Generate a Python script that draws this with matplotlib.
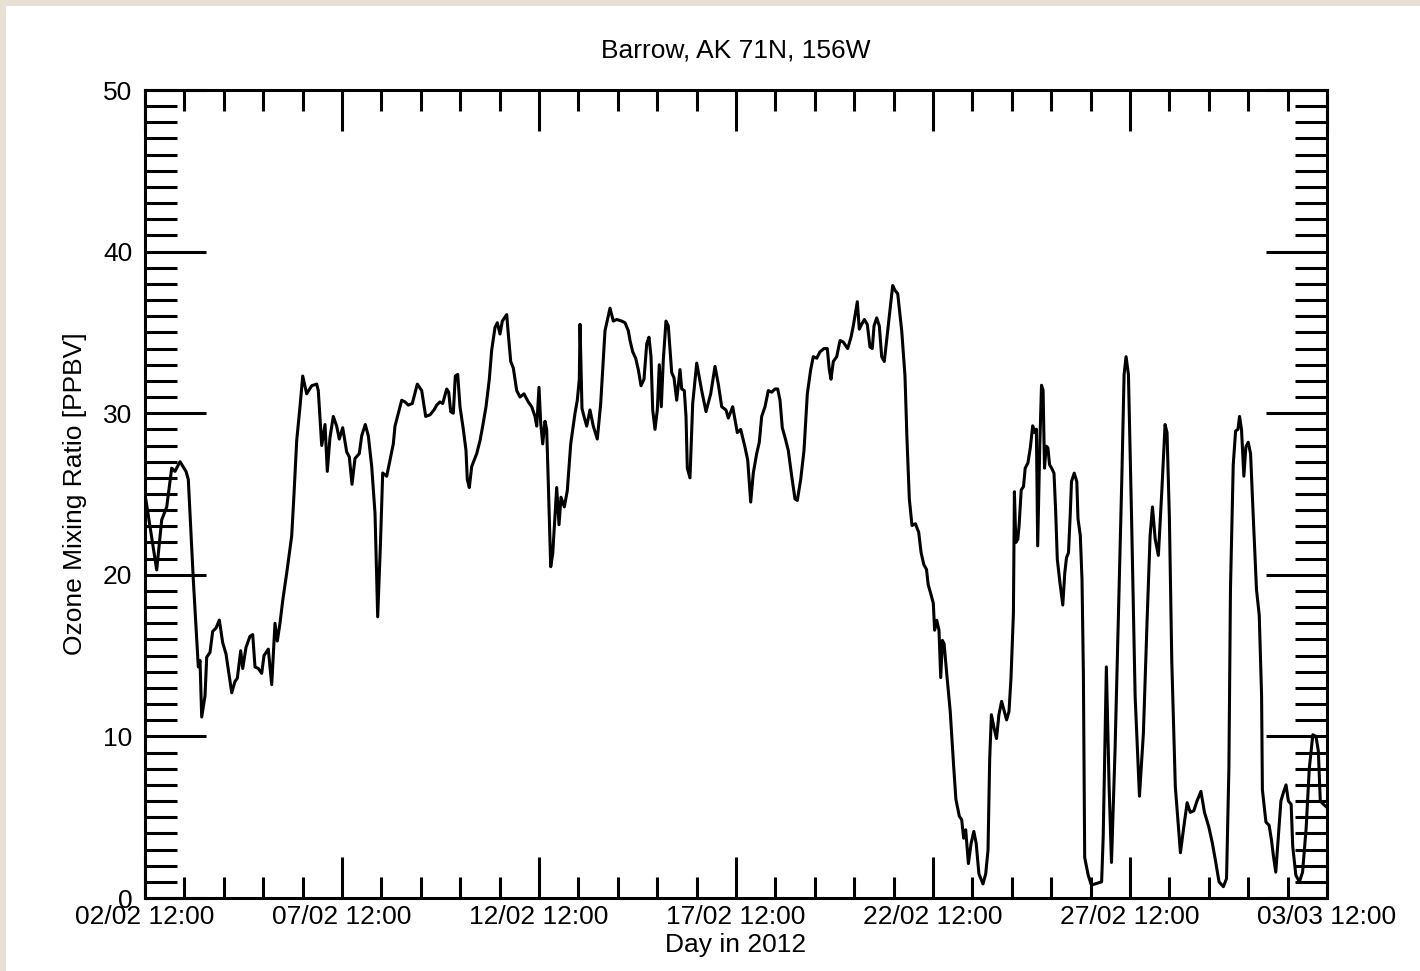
import matplotlib
matplotlib.use("Agg")
import matplotlib.pyplot as plt
from matplotlib.patches import Rectangle
from matplotlib.ticker import MultipleLocator
import numpy as np
import pandas as pd

plt.rcParams['font.family'] = ['Liberation Sans', 'DejaVu Sans']

# days since 02/02/2012 12:00 and ozone mixing ratio [ppbv]
days = [
    0.025, 0.297, 0.424, 0.551, 0.678, 0.761, 0.888, 1.041, 1.099, 1.226,
    1.353, 1.396, 1.439, 1.523, 1.566, 1.650, 1.718, 1.802, 1.886, 1.972,
    2.056, 2.201, 2.284, 2.343, 2.429, 2.480, 2.563, 2.665, 2.734, 2.792,
    2.876, 2.962, 3.020, 3.129, 3.216, 3.299, 3.358, 3.426, 3.495, 3.596,
    3.723, 3.782, 3.850, 3.934, 4.003, 4.104, 4.231, 4.358, 4.398, 4.485,
    4.569, 4.627, 4.695, 4.779, 4.865, 4.931, 5.018, 5.119, 5.185, 5.254,
    5.330, 5.439, 5.500, 5.591, 5.668, 5.754, 5.838, 5.906, 5.977, 6.033,
    6.135, 6.218, 6.302, 6.345, 6.429, 6.515, 6.599, 6.683, 6.784, 6.911,
    7.023, 7.124, 7.234, 7.335, 7.404, 7.487, 7.556, 7.657, 7.708, 7.759,
    7.825, 7.876, 7.937, 7.995, 8.079, 8.147, 8.180, 8.231, 8.292, 8.419,
    8.503, 8.571, 8.655, 8.739, 8.799, 8.883, 8.942, 9.010, 9.069, 9.180,
    9.221, 9.282, 9.348, 9.434, 9.518, 9.619, 9.728, 9.815, 9.898, 9.942,
    10.000, 10.043, 10.094, 10.152, 10.195, 10.236, 10.297, 10.348, 10.449, 10.508,
    10.558, 10.642, 10.718, 10.805, 10.914, 10.972, 11.023, 11.041, 11.091, 11.142,
    11.211, 11.294, 11.378, 11.480, 11.566, 11.675, 11.802, 11.886, 11.972, 12.099,
    12.183, 12.267, 12.310, 12.378, 12.454, 12.520, 12.589, 12.665, 12.734, 12.792,
    12.843, 12.886, 12.944, 13.003, 13.053, 13.104, 13.155, 13.223, 13.282, 13.368,
    13.426, 13.495, 13.579, 13.622, 13.688, 13.731, 13.764, 13.832, 13.901, 14.003,
    14.129, 14.239, 14.358, 14.467, 14.551, 14.637, 14.746, 14.805, 14.916, 14.975,
    15.033, 15.119, 15.228, 15.297, 15.373, 15.439, 15.525, 15.591, 15.652, 15.736,
    15.820, 15.906, 15.990, 16.058, 16.117, 16.175, 16.244, 16.327, 16.414, 16.497,
    16.556, 16.642, 16.726, 16.810, 16.896, 16.962, 17.048, 17.132, 17.234, 17.317,
    17.368, 17.411, 17.470, 17.556, 17.640, 17.723, 17.835, 17.919, 17.977, 18.079,
    18.129, 18.190, 18.256, 18.332, 18.401, 18.459, 18.503, 18.571, 18.637, 18.698,
    18.764, 18.865, 18.977, 19.036, 19.104, 19.206, 19.289, 19.338, 19.399, 19.467,
    19.553, 19.637, 19.698, 19.766, 19.835, 19.878, 19.939, 20.008, 20.041, 20.094,
    20.152, 20.196, 20.239, 20.282, 20.350, 20.437, 20.523, 20.581, 20.668, 20.728,
    20.779, 20.830, 20.898, 20.967, 21.036, 21.096, 21.165, 21.269, 21.338, 21.396,
    21.439, 21.482, 21.551, 21.612, 21.673, 21.741, 21.810, 21.868, 21.929, 21.980,
    22.041, 22.066, 22.102, 22.152, 22.185, 22.239, 22.297, 22.340, 22.409, 22.470,
    22.530, 22.581, 22.624, 22.657, 22.711, 22.754, 22.794, 22.830, 22.873, 22.916,
    22.959, 23.010, 23.071, 23.114, 23.155, 23.223, 23.294, 23.345, 23.388, 23.439,
    23.482, 23.515, 23.584, 23.650, 23.680, 23.739, 23.782, 23.817, 23.85, 23.94,
    24.02, 24.15, 24.28, 24.32, 24.40, 24.47, 24.53, 24.62, 24.70, 24.79,
    24.85, 24.90, 24.96, 25.04, 25.13, 25.24, 25.34, 25.43, 25.51, 25.57,
    25.64, 25.72, 25.81, 25.89, 25.94, 26.00, 26.06, 26.15, 26.28, 26.36,
    26.45, 26.53, 26.62, 26.70, 26.80, 26.89, 27.00, 27.09, 27.17, 27.26,
    27.37, 27.45, 27.51, 27.55, 27.62, 27.68, 27.74, 27.78, 27.83, 27.89,
    27.94, 28.00, 28.06, 28.13, 28.21, 28.28, 28.34, 28.36, 28.45, 28.53,
    28.59, 28.64, 28.70, 28.76, 28.83, 28.89, 28.96, 29.02, 29.09, 29.13,
    29.21, 29.30, 29.38, 29.47, 29.55, 29.64, 29.72, 29.78, 29.83, 29.91,
    30.0,
]
ozone = [
    24.6, 20.3, 23.4, 24.2, 26.6, 26.4, 27.0, 26.4, 25.9, 19.7,
    14.3, 14.7, 11.2, 12.5, 14.9, 15.2, 16.5, 16.7, 17.2, 15.8,
    15.1, 12.7, 13.4, 13.6, 15.3, 14.2, 15.5, 16.2, 16.3, 14.3,
    14.2, 13.9, 15.0, 15.4, 13.2, 17.0, 15.9, 17.0, 18.4, 20.1,
    22.4, 25.0, 28.3, 30.4, 32.3, 31.2, 31.7, 31.8, 31.4, 28.0,
    29.3, 26.4, 28.5, 29.8, 29.2, 28.4, 29.1, 27.6, 27.3, 25.6,
    27.2, 27.5, 28.6, 29.3, 28.6, 26.7, 23.8, 17.4, 22.0, 26.3,
    26.1, 27.1, 28.1, 29.2, 30.0, 30.8, 30.7, 30.5, 30.6, 31.8,
    31.4, 29.8, 29.9, 30.2, 30.5, 30.7, 30.6, 31.5, 31.3, 30.1,
    30.0, 32.3, 32.4, 30.4, 29.0, 27.7, 25.9, 25.4, 26.7, 27.5,
    28.3, 29.2, 30.4, 32.1, 33.9, 35.3, 35.6, 34.9, 35.7, 36.1,
    34.9, 33.2, 32.8, 31.4, 31.0, 31.2, 30.7, 30.4, 29.8, 29.2,
    31.6, 29.4, 28.1, 29.5, 29.0, 25.7, 20.5, 21.3, 25.4, 23.1,
    24.8, 24.2, 25.2, 28.1, 30.0, 30.8, 32.1, 35.5, 30.3, 29.8,
    29.2, 30.2, 29.2, 28.4, 30.6, 35.1, 36.5, 35.7, 35.8, 35.7,
    35.6, 35.1, 34.5, 33.8, 33.4, 32.7, 31.7, 32.1, 34.3, 34.7,
    33.5, 30.2, 29.0, 30.2, 33.0, 30.4, 33.3, 35.7, 35.4, 32.5,
    32.2, 30.8, 32.7, 31.5, 31.4, 29.8, 26.6, 26.0, 30.6, 33.1,
    31.4, 30.1, 31.2, 32.9, 31.8, 30.4, 30.2, 29.7, 30.4, 29.6,
    28.8, 29.0, 27.9, 27.1, 24.5, 26.3, 27.5, 28.2, 29.8, 30.4,
    31.4, 31.3, 31.5, 31.5, 30.8, 29.1, 28.5, 27.7, 26.1, 24.7,
    24.6, 25.9, 27.7, 31.2, 32.7, 33.5, 33.4, 33.8, 34.0, 34.0,
    32.7, 32.1, 33.2, 33.5, 34.5, 34.4, 34.0, 34.7, 35.4, 36.9,
    35.2, 35.5, 35.8, 35.5, 34.1, 34.0, 35.4, 35.9, 35.4, 33.5,
    33.2, 35.4, 37.9, 37.6, 37.4, 35.1, 32.3, 28.5, 24.7, 23.05,
    23.16, 22.63, 21.37, 20.64, 20.33, 19.39, 18.87, 18.24, 16.57, 17.19,
    16.57, 13.64, 15.94, 15.73, 13.84, 11.55, 8.2, 6.11, 5.06, 4.85,
    3.7, 4.22, 2.13, 3.38, 4.12, 3.38, 1.5, 0.87, 1.5, 2.96,
    8.61, 11.34, 10.5, 9.87, 11.34, 12.17, 11.55, 11.02, 11.55, 13.64,
    17.61, 25.14, 22.0, 22.2, 23.05, 25.25, 25.46, 26.6, 26.92, 27.86,
    29.22, 28.8, 29.01, 21.79, 28.07, 31.73, 31.42, 26.6, 27.96, 27.86,
    26.81, 26.6, 26.29, 23.89, 20.96, 19.49, 18.13, 20.12, 21.06, 21.37,
    23.68, 25.77, 26.29, 25.77, 23.47, 22.42, 19.7, 13.84, 2.5, 1.4,
    0.8, 0.9, 1.0, 3.8, 14.3, 6.9, 2.2, 9.1, 16.9, 25.7,
    32.4, 33.5, 32.4, 23.5, 12.5, 6.3, 10.2, 16.9, 22.4, 24.2,
    22.2, 21.2, 25.3, 29.3, 28.8, 23.5, 14.7, 6.9, 2.8, 4.3,
    5.9, 5.3, 5.4, 6.0, 6.6, 5.3, 4.4, 3.4, 2.3, 1.0,
    0.7, 1.2, 8.0, 19.1, 26.8, 28.9, 29.0, 29.8, 29.0, 26.1,
    27.9, 28.2, 27.5, 23.5, 19.1, 17.5, 12.5, 6.7, 4.7, 4.5,
    3.6, 2.6, 1.6, 3.6, 6.0, 6.5, 7.0, 6.0, 5.8, 3.2,
    1.4, 1.0, 1.6, 4.3, 8.0, 10.1, 10.0, 9.1, 6.0, 5.8,
    5.6,
]

start = pd.Timestamp('2012-02-02 12:00')
tick_days = list(range(0, 31, 5))
tick_labels = [(start + pd.Timedelta(days=d)).strftime('%d/%m %H:%M') for d in tick_days]

W, H = 1420, 971
FS = 19
fig = plt.figure(figsize=(W / 100, H / 100), dpi=100, facecolor='#e8e0d2')
fig.patches.append(Rectangle((6 / W, 0), 1 - 6 / W, 1 - 6 / H, transform=fig.transFigure,
                             facecolor='white', edgecolor='none', zorder=-10))

ax = fig.add_axes([145 / W, 73 / H, 1182 / W, 808 / H])
ax.set_zorder(1)
ax.plot(days, ozone, color='black', lw=2.2, solid_joinstyle='round')

ax.set_xlim(0, 30)
ax.set_ylim(0, 50)
ax.set_xticks(tick_days)
ax.set_xticklabels(tick_labels)
ax.xaxis.set_minor_locator(MultipleLocator(1))
ax.set_yticks(range(0, 51, 10))
ax.yaxis.set_minor_locator(MultipleLocator(1))

for s in ax.spines.values():
    s.set_linewidth(2.2)

ax.tick_params(axis='x', which='both', direction='in', top=True, bottom=True,
               width=2.2, labelsize=FS, pad=5)
ax.tick_params(axis='x', which='major', length=29.5)
ax.tick_params(axis='x', which='minor', length=15)
ax.tick_params(axis='y', which='both', direction='in', left=True, right=True,
               width=2.2, labelsize=FS, pad=9)
ax.tick_params(axis='y', which='major', length=44)
ax.tick_params(axis='y', which='minor', length=23)

fig.text(736 / W, 1 - 50 / H, 'Barrow, AK 71N, 156W', ha='center', va='center', fontsize=FS)
fig.text(736 / W, 1 - 945 / H, 'Day in 2012', ha='center', va='center', fontsize=FS)
fig.text(75 / W, 1 - 494 / H, 'Ozone Mixing Ratio [PPBV]', ha='center', va='center',
         rotation=90, fontsize=FS)

fig.savefig('out.png', dpi=100, facecolor=fig.get_facecolor())
